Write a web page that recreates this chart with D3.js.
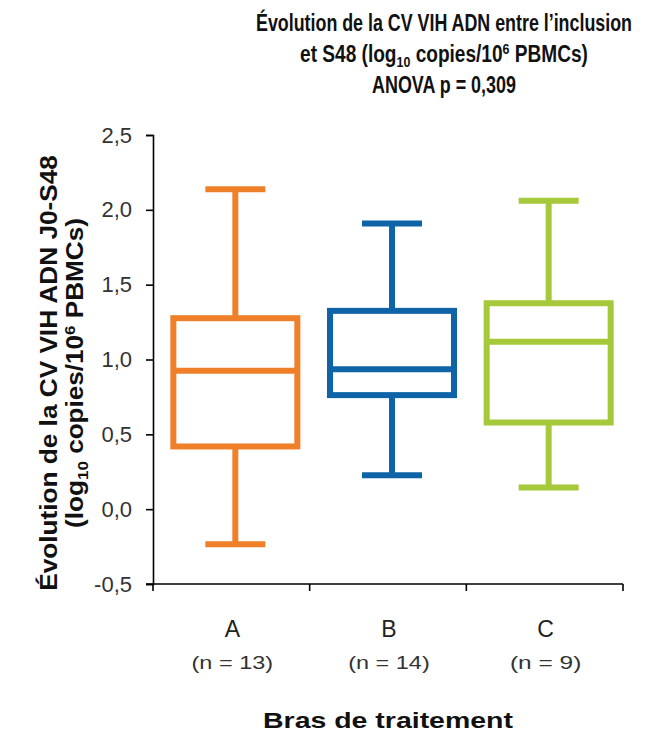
<!DOCTYPE html>
<html><head><meta charset="utf-8">
<script src="https://cdn.jsdelivr.net/npm/d3@7"></script>
<style>
body{margin:0;background:#fff;}
text{font-family:"Liberation Sans",Arial,sans-serif;}
</style></head>
<body><svg id="c" width="651" height="738"></svg>
<script>
const categories = ["A","B","C"];
const counts = ["(n = 13)","(n = 14)","(n = 9)"];
const whiskerLow  = [-0.234, 0.227, 0.145];
const q1          = [0.419, 0.762, 0.579];
const median      = [0.924, 0.935, 1.118];
const q3          = [1.276, 1.325, 1.376];
const whiskerHigh = [2.138, 1.908, 2.06];
const colors = ["#F07F2A","#0E64A6","#A5C93A"];
const yTicks = [-0.5,0,0.5,1,1.5,2,2.5];

(function(){
const svg = d3.select("#c");
const pL=153, pR=623, pT=135, pB=584;
const x = d3.scaleBand().domain(categories).range([pL,pR]).paddingInner(0).paddingOuter(0);
const y = d3.scaleLinear().domain([-0.5,2.5]).range([pB,pT]);
const fmt = d => d.toFixed(1).replace(".",",");

function fitH(sel, w, cx){
  const L = sel.node().getComputedTextLength();
  const s = w / L;
  sel.attr("transform",`translate(${cx},0) scale(${s},1) translate(${-cx},0)`);
}
function fitV(sel, w, cy){
  const L = sel.node().getComputedTextLength();
  const s = w / L;
  sel.attr("transform",`rotate(-90) translate(${-cy},0) scale(${s},1) translate(${cy},0)`);
}

// y axis
const ya = svg.append("g").attr("transform",`translate(${pL},0)`)
  .call(d3.axisLeft(y).tickValues(yTicks).tickFormat(fmt).tickSize(7).tickPadding(14));
ya.select(".domain").attr("stroke","#000").attr("stroke-width",1.6);
ya.selectAll(".tick line").attr("stroke","#000").attr("stroke-width",1.6);
ya.selectAll(".tick text").attr("font-size",22).attr("fill","#333").style("font-family","Liberation Sans, Arial");

// x axis (ticks at band boundaries)
const bounds = categories.map(c=>x(c)).concat([pR]);
svg.append("line").attr("x1",pL-7).attr("x2",pR).attr("y1",pB).attr("y2",pB).attr("stroke","#000").attr("stroke-width",1.6);
svg.selectAll(".xt").data(bounds).enter().append("line")
  .attr("x1",d=>d).attr("x2",d=>d).attr("y1",pB).attr("y2",pB+7).attr("stroke","#000").attr("stroke-width",1.6);

// boxes
const bw = 124, cw = 60, sw = 6, off = 4;
categories.forEach((c,i)=>{
  const cx = x(c)+x.bandwidth()/2+off, col=colors[i];
  const g = svg.append("g").attr("stroke",col).attr("fill","none");
  g.append("line").attr("x1",cx).attr("x2",cx).attr("y1",y(whiskerHigh[i])).attr("y2",y(q3[i])).attr("stroke-width",sw);
  g.append("line").attr("x1",cx).attr("x2",cx).attr("y1",y(q1[i])).attr("y2",y(whiskerLow[i])).attr("stroke-width",sw);
  g.append("line").attr("x1",cx-cw/2).attr("x2",cx+cw/2).attr("y1",y(whiskerHigh[i])).attr("y2",y(whiskerHigh[i])).attr("stroke-width",sw);
  g.append("line").attr("x1",cx-cw/2).attr("x2",cx+cw/2).attr("y1",y(whiskerLow[i])).attr("y2",y(whiskerLow[i])).attr("stroke-width",sw);
  g.append("rect").attr("x",cx-bw/2).attr("width",bw).attr("y",y(q3[i])).attr("height",y(q1[i])-y(q3[i])).attr("stroke-width",sw);
  g.append("line").attr("x1",cx-bw/2).attr("x2",cx+bw/2).attr("y1",y(median[i])).attr("y2",y(median[i])).attr("stroke-width",sw);
  const lx = x(c)+x.bandwidth()/2+1;
  svg.append("text").attr("x",lx).attr("y",637).attr("text-anchor","middle").attr("font-size",23).attr("fill","#222").text(c);
  const n = svg.append("text").attr("x",lx).attr("y",669).attr("text-anchor","middle").attr("font-size",18).attr("fill","#333").text(counts[i]);
  fitH(n, counts[i].length*10.2, lx);
});

// x title
const xt = svg.append("text").attr("x",388).attr("y",728).attr("text-anchor","middle").attr("font-size",22).attr("font-weight","bold").attr("fill","#111").text("Bras de traitement");
fitH(xt, 250, 388);

// title
const tcx = 444;
const t1 = svg.append("text").attr("x",tcx).attr("y",31).attr("text-anchor","middle").attr("font-size",23).attr("font-weight","bold").attr("fill","#111")
  .text("Évolution de la CV VIH ADN entre l’inclusion");
fitH(t1, 376, tcx);
const t2 = svg.append("text").attr("x",tcx).attr("y",62).attr("text-anchor","middle").attr("font-size",23).attr("font-weight","bold").attr("fill","#111");
t2.append("tspan").text("et S48 (log");
t2.append("tspan").attr("font-size",15).attr("dy",5).text("10");
t2.append("tspan").attr("dy",-5).text(" copies/10");
t2.append("tspan").attr("font-size",15).attr("dy",-8).text("6");
t2.append("tspan").attr("dy",8).text(" PBMCs)");
fitH(t2, 288, tcx);
const t3 = svg.append("text").attr("x",tcx).attr("y",93).attr("text-anchor","middle").attr("font-size",23).attr("font-weight","bold").attr("fill","#111")
  .text("ANOVA p = 0,309");
fitH(t3, 144, tcx);

// y title
const ycy = 373;
const yt1 = svg.append("text").attr("x",-ycy).attr("y",57).attr("text-anchor","middle").attr("font-size",23).attr("font-weight","bold").attr("fill","#111")
  .text("Évolution de la CV VIH ADN J0-S48");
fitV(yt1, 436, ycy);
const yt2 = svg.append("text").attr("x",-ycy).attr("y",83).attr("text-anchor","middle").attr("font-size",23).attr("font-weight","bold").attr("fill","#111");
yt2.append("tspan").text("(log");
yt2.append("tspan").attr("font-size",15).attr("dy",5).text("10");
yt2.append("tspan").attr("dy",-5).text(" copies/10");
yt2.append("tspan").attr("font-size",15).attr("dy",-8).text("6");
yt2.append("tspan").attr("dy",8).text(" PBMCs)");
fitV(yt2, 310, ycy);
})();
</script></body></html>
